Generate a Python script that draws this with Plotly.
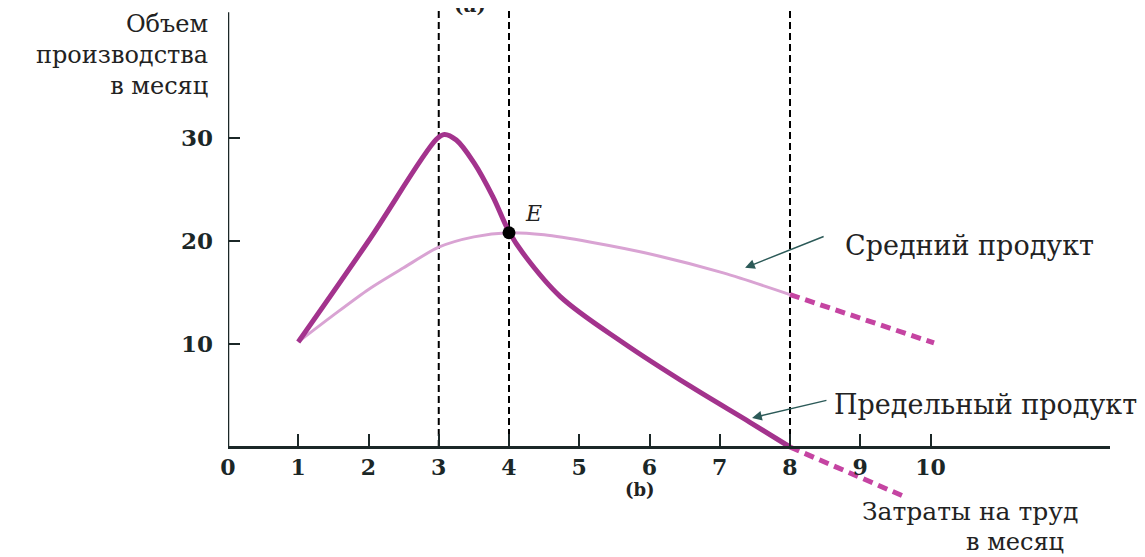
import plotly.graph_objects as go

# Marginal product (solid part) and its dashed continuation
mp_x = [1, 2, 2.97, 3.08, 3.25, 3.5, 3.77, 4.0, 4.2, 4.73, 5.63, 6.58, 7.43, 8.0]
mp_y = [10.2, 20.0, 29.9, 30.35, 29.8, 27.6, 24.3, 20.9, 18.8, 14.6, 10.1, 5.9, 2.4, 0.0]
mp_dash_x = [8.0, 9.64]
mp_dash_y = [0.0, -4.85]

# Average product (solid part) and its dashed continuation
ap_x = [1, 1.5, 2, 2.5, 3, 3.5, 4.0, 4.5, 5.15, 6.1, 7.05, 8.0]
ap_y = [10.2, 12.8, 15.3, 17.4, 19.4, 20.4, 20.8, 20.6, 19.9, 18.6, 16.9, 14.8]
ap_dash_x = [8.0, 10.05]
ap_dash_y = [14.8, 10.1]

# point E and the reference verticals
e_x, e_y = 4.0, 20.8
vlines = [3, 4, 8]

x_ticks = list(range(0, 11))
y_ticks = [10, 20, 30]

# axis geometry (pixels); the page body adds an 8px margin, so the figure is 8px smaller
W, H = 1137, 549
L, R = 220, 35
px_x = 70.25   # pixels per labour unit
px_y = 10.3    # pixels per output unit
y_zero = 439   # pixel row of the horizontal axis inside the figure
xmax = (W - L - R) / px_x
ymin = -(H - y_zero) / px_y
ymax = y_zero / px_y

SERIF = "DejaVu Serif"
INK = "#1b2727"
TXT = "#222"

fig = go.Figure()

fig.add_trace(go.Scatter(x=ap_x, y=ap_y, mode="lines", line=dict(color="#d9a3d3", width=3, shape="spline", smoothing=0.8)))
fig.add_trace(go.Scatter(x=ap_dash_x, y=ap_dash_y, mode="lines", line=dict(color="#c544a2", width=5, dash="10px,6px")))
fig.add_trace(go.Scatter(x=mp_x, y=mp_y, mode="lines", line=dict(color="#a3338d", width=5, shape="spline", smoothing=1.0)))
fig.add_trace(go.Scatter(x=mp_dash_x, y=mp_dash_y, mode="lines", line=dict(color="#c544a2", width=5, dash="10px,6px")))
fig.add_trace(go.Scatter(x=[e_x], y=[e_y], mode="markers", marker=dict(color="black", size=13)))

shapes = []
for v in vlines:
    shapes.append(dict(type="line", x0=v, x1=v, y0=0, y1=ymax, xref="x", yref="y",
                       line=dict(color="black", width=2, dash="7px,4px"), layer="below"))
# vertical axis line
shapes.append(dict(type="line", x0=0, x1=0, y0=0, y1=42.2, xref="x", yref="y",
                   line=dict(color=INK, width=2.5)))

pw = W - L - R
ann = []
ann.append(dict(x=-18 / pw, y=1, xref="paper", yref="paper", xanchor="right", yanchor="top",
                align="right", showarrow=False,
                text="Объем<br>производства<br>в месяц",
                font=dict(family=SERIF, size=24, color=TXT)))
ann.append(dict(x=e_x + 0.2, y=e_y + 0.5, xref="x", yref="y", xanchor="left", yanchor="bottom",
                showarrow=False, text="<i>E</i>", font=dict(family=SERIF, size=22, color=TXT)))
ann.append(dict(x=8.75, y=19.6, xref="x", yref="y", xanchor="left", yanchor="middle", showarrow=False,
                text="Средний продукт", font=dict(family=SERIF, size=27, color=TXT)))
ann.append(dict(x=8.6, y=4.17, xref="x", yref="y", xanchor="left", yanchor="middle", showarrow=False,
                text="Предельный продукт", font=dict(family=SERIF, size=27, color=TXT)))
ann.append(dict(x=7.36, y=17.4, ax=8.5, ay=20.5, xref="x", yref="y", axref="x", ayref="y", text="",
                showarrow=True, arrowhead=2, arrowsize=1.3, arrowwidth=1.5, arrowcolor="#2c5a58"))
ann.append(dict(x=7.46, y=2.82, ax=8.54, ay=4.56, xref="x", yref="y", axref="x", ayref="y", text="",
                showarrow=True, arrowhead=2, arrowsize=1.3, arrowwidth=1.5, arrowcolor="#2c5a58"))
ann.append(dict(x=5.86, y=-4.1, xref="x", yref="y", showarrow=False, text="<b>(b)</b>",
                font=dict(family=SERIF, size=18, color=TXT)))
ann.append(dict(x=10.56, y=-6.3, xref="x", yref="y", showarrow=False, text="Затраты на труд",
                font=dict(family=SERIF, size=25, color=TXT)))
ann.append(dict(x=11.2, y=-9.2, xref="x", yref="y", showarrow=False, text="в месяц",
                font=dict(family=SERIF, size=24, color=TXT)))
ann.append(dict(x=3.44, y=1, xref="x", yref="paper", yanchor="middle", yshift=3, showarrow=False,
                text="<b>(a)</b>", font=dict(family=SERIF, size=20, color=TXT)))

fig.update_layout(
    width=W, height=H,
    margin=dict(l=L, r=R, t=0, b=0, autoexpand=False),
    paper_bgcolor="white", plot_bgcolor="white",
    showlegend=False,
    shapes=shapes,
    annotations=ann,
)
fig.update_xaxes(range=[0, xmax], anchor="free", position=(H - y_zero) / H, automargin=False,
                 showline=True, linecolor=INK, linewidth=2.5,
                 ticks="inside", ticklen=12, tickwidth=2, tickcolor=INK,
                 tickvals=x_ticks, ticktext=[str(t) for t in x_ticks],
                 tickfont=dict(family=SERIF, size=22, color=INK, weight="bold"),
                 showgrid=False, zeroline=False)
fig.update_yaxes(range=[ymin, ymax], showline=False, automargin=False,
                 ticks="inside", ticklen=12, tickwidth=2, tickcolor=INK,
                 tickvals=y_ticks, ticklabelstandoff=14,
                 tickfont=dict(family=SERIF, size=23, color=INK, weight="bold"),
                 showgrid=False, zeroline=False)

fig.write_html("out.html")
